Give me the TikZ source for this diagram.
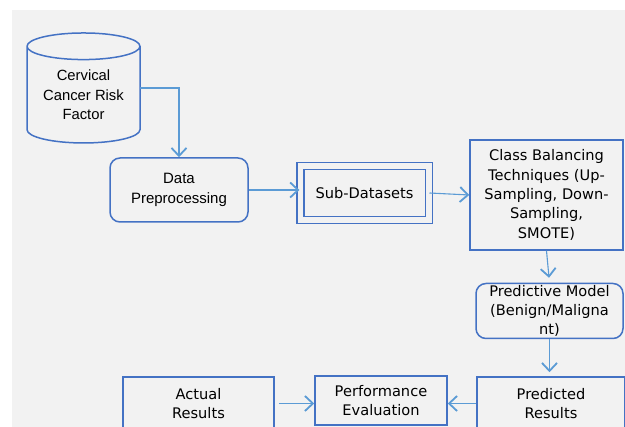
\documentclass[tikz,border=0pt]{standalone}
\usepackage{fontspec}
\setmainfont{DejaVu Sans}
\newfontfamily\arialfont{Liberation Sans}
\usetikzlibrary{positioning}
\usetikzlibrary{arrows.meta}
\usetikzlibrary{shapes.geometric}
\definecolor{boxblue}{RGB}{68,114,196}
\definecolor{arrowblue}{RGB}{91,155,213}
\definecolor{panel}{RGB}{242,242,242}
\tikzset{>={Straight Barb[length=8pt,width=15pt,line width=1.8pt]}}
\tikzset{blk/.style={draw=boxblue, line width=1.5pt, align=center, inner sep=0pt,
  font=\fontsize{14.6}{19.3}\selectfont}}
\tikzset{rblk/.style={blk, rounded corners=10pt}}
\tikzset{flow/.style={->, draw=arrowblue, line width=1.1pt}}

\begin{document}
\begin{tikzpicture}[x=1pt,y=-1pt]
\useasboundingbox (0,0) rectangle (625,427);
\clip (0,0) rectangle (625,427);
\fill[panel] (12,10) rectangle (625,427);

\node[blk, shape=cylinder, shape border rotate=90, aspect=0.33,
  minimum width=113pt, minimum height=110pt,
  font=\arialfont\fontsize{14.8}{19.5}\selectfont] (cyl) at (83.5,95)
  {Cervical\\Cancer Risk\\Factor};
\coordinate (cylout) at (140,88);
\node[rblk, minimum width=138pt, minimum height=64pt,
  font=\arialfont\fontsize{15}{19.5}\selectfont] (prep) at (179,190)
  {Data\\Preprocessing};
\node[blk, double=panel, double distance=5.5pt,
  minimum width=128.5pt, minimum height=54pt] (sub) at (364.5,193) {Sub-Datasets};
\node[blk, minimum width=153pt, minimum height=110pt] (cbt) at (546.5,195)
  {Class Balancing\\Techniques (Up-\\Sampling, Down-\\Sampling,\\SMOTE)};
\node[rblk, minimum width=147pt, minimum height=55pt] (pm) at (549.5,311)
  {Predictive Model\\(Benign/Maligna\\nt)};
\node[blk, minimum width=148pt, minimum height=53pt] (pred) at (551,403.5)
  {Predicted\\Results};
\node[blk, minimum width=132pt, minimum height=49pt] (perf) at (381,400.5)
  {Performance\\Evaluation};
\node[blk, minimum width=151pt, minimum height=53pt] (act) at (198.5,403.5)
  {Actual\\Results};

\draw[flow] (cylout) -| (prep.north);
\draw[flow] (prep.east) -- (prep.east -| sub.west);
\draw[flow] (sub.east) -- (cbt.west);
\draw[flow, shorten >=5pt] (cbt.south) -- (pm.north);
\draw[flow, shorten >=4pt] (pm.south) -- (pm.south |- pred.north);
\draw[flow] (pred.west) -- (pred.west -| perf.east);
\draw[flow, shorten <=4pt] (act.east) -- (act.east -| perf.west);
\end{tikzpicture}
\end{document}
